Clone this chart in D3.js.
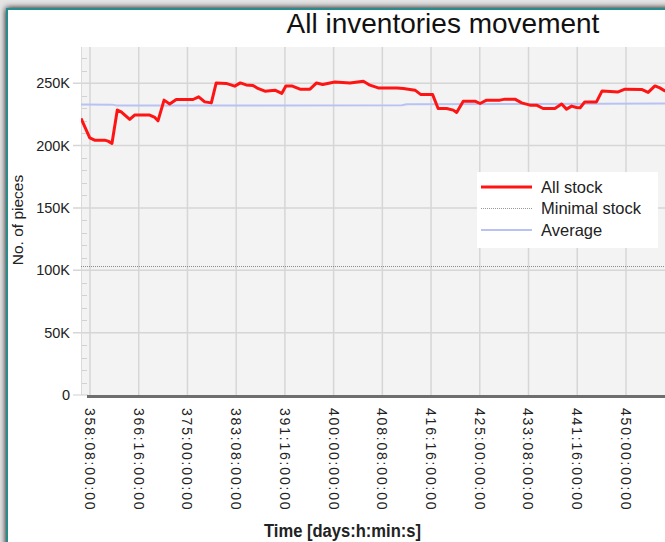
<!DOCTYPE html>
<html>
<head>
<meta charset="utf-8">
<script src="https://cdnjs.cloudflare.com/ajax/libs/d3/7.8.5/d3.min.js"></script>
<style>
  html, body { margin: 0; padding: 0; background: #e4e4e4; }
  svg { display: block; font-family: "Liberation Sans", Arial, sans-serif; }
</style>
</head>
<body>
<div id="chart"></div>
<script>
// time in hours since day 0, stock in pieces
var stockHours = [8563, 8599, 8619, 8660, 8674, 8690, 8712, 8728, 8763, 8783, 8845, 8866, 8879, 8904, 8927, 8954,
  9023, 9046, 9071, 9098, 9118, 9159, 9194, 9217, 9241, 9269, 9289, 9318, 9359, 9387, 9404, 9428, 9462, 9503,
  9530, 9555, 9605, 9667, 9722, 9749, 9783, 9859, 9886, 9934, 9957, 10006, 10029, 10064, 10091, 10105, 10132,
  10180, 10201, 10228, 10283, 10303, 10344, 10372, 10406, 10433, 10460, 10508, 10536, 10556, 10577, 10597,
  10612, 10631, 10679, 10702, 10768, 10796, 10864, 10891, 10919, 10939, 10960, 10990];
var stockValues = [221700, 206200, 204300, 204300, 203500, 201700, 228500, 227000, 220900, 224400, 224400, 222500,
  219800, 236400, 233300, 236900, 236900, 239000, 235000, 234200, 250200, 249800, 247600, 250200, 248600, 248200,
  245800, 243600, 244400, 241800, 247800, 247800, 245200, 245200, 250200, 249000, 251000, 250200, 251600, 248400,
  246200, 246200, 245800, 244400, 241000, 241000, 229700, 229700, 228400, 226500, 235600, 235600, 233700, 236400,
  236400, 237200, 237200, 234200, 232400, 232400, 229700, 229700, 233300, 229200, 231600, 230500, 230300, 235000,
  235000, 243800, 243000, 245200, 245000, 242600, 247800, 246200, 243800, 242500];

var avgHours = [8563, 8690, 8710, 9880, 9900, 10700, 11186];
var avgValues = [233000, 232800, 232100, 232300, 233100, 233500, 233900];

var minimalStock = 103000;

var xTicks = d3.range(8600, 11200, 200);
var yTicks = [0, 50000, 100000, 150000, 200000, 250000];
var yMinorTicks = d3.range(10000, 280000, 10000).filter(function(v) { return v % 50000 != 0; });

var legendNames = ["All stock", "Minimal stock", "Average"];

var width = 665, height = 542;
var plotLeft = 81, plotTop = 47, plotBottom = 395, plotRight = 720;

var x = d3.scaleLinear().domain([8563, 11186]).range([plotLeft, plotRight]);
var y = d3.scaleLinear().domain([0, 279000]).range([plotBottom, plotTop]);

function fmtTime(h) {
  var d = Math.floor(h / 24);
  var hh = h % 24;
  return d3.format("03d")(d) + ":" + d3.format("02d")(hh) + ":00:00";
}

var svg = d3.select("#chart").append("svg")
  .attr("width", width)
  .attr("height", height);

// window frame with shadow
var defs = svg.append("defs");
var blur = defs.append("filter").attr("id", "shadow").attr("x", "-5%").attr("y", "-5%").attr("width", "110%").attr("height", "110%");
blur.append("feGaussianBlur").attr("in", "SourceAlpha").attr("stdDeviation", 3);
var merge = blur.append("feMerge");
merge.append("feMergeNode");
merge.append("feMergeNode").attr("in", "SourceGraphic");

defs.append("clipPath").attr("id", "plotclip")
  .append("rect")
  .attr("x", plotLeft).attr("y", plotTop)
  .attr("width", plotRight - plotLeft).attr("height", plotBottom - plotTop);

svg.append("rect")
  .attr("x", 7).attr("y", 9)
  .attr("width", 700).attr("height", 560)
  .attr("fill", "#fff")
  .attr("stroke", "#2b8c8a")
  .attr("stroke-width", 2)
  .attr("filter", "url(#shadow)");

// title
svg.append("text")
  .attr("x", 443).attr("y", 33)
  .attr("text-anchor", "middle")
  .attr("font-size", 28)
  .attr("fill", "#111")
  .text("All inventories movement");

// plot background
svg.append("rect")
  .attr("x", plotLeft).attr("y", plotTop)
  .attr("width", plotRight - plotLeft).attr("height", plotBottom - plotTop)
  .attr("fill", "#f3f3f3");

// vertical grid
svg.append("g").selectAll("line")
  .data(xTicks)
  .enter().append("line")
  .attr("x1", function(d) { return x(d); })
  .attr("x2", function(d) { return x(d); })
  .attr("y1", plotTop).attr("y2", plotBottom)
  .attr("stroke", "#d6d6d6")
  .attr("stroke-width", 1.5);

// horizontal grid + y ticks
svg.append("g").selectAll("line")
  .data(yTicks.filter(function(d) { return d > 0; }))
  .enter().append("line")
  .attr("x1", 73).attr("x2", plotRight)
  .attr("y1", function(d) { return y(d); })
  .attr("y2", function(d) { return y(d); })
  .attr("stroke", "#d6d6d6")
  .attr("stroke-width", 1.5);

// minor ticks in the left strip
svg.append("g").selectAll("line")
  .data(yMinorTicks)
  .enter().append("line")
  .attr("x1", plotLeft).attr("x2", plotLeft + 6)
  .attr("y1", function(d) { return Math.round(y(d)) + 0.5; })
  .attr("y2", function(d) { return Math.round(y(d)) + 0.5; })
  .attr("stroke", "#d2d2d2");

svg.append("line")
  .attr("x1", plotLeft + 0.5).attr("x2", plotLeft + 0.5)
  .attr("y1", plotTop).attr("y2", plotBottom)
  .attr("stroke", "#dadada");

// y tick labels
svg.append("g").selectAll("text")
  .data(yTicks)
  .enter().append("text")
  .attr("x", 70)
  .attr("y", function(d) { return y(d); })
  .attr("dy", "0.36em")
  .attr("text-anchor", "end")
  .attr("font-size", 14.5)
  .attr("fill", "#222")
  .text(function(d) { return d == 0 ? "0" : (d / 1000) + "K"; });

// zero tick and x axis bar
svg.append("line")
  .attr("x1", 73).attr("x2", 88)
  .attr("y1", plotBottom).attr("y2", plotBottom)
  .attr("stroke", "#cfcfcf");
svg.append("line")
  .attr("x1", 87).attr("x2", plotRight)
  .attr("y1", plotBottom + 1.5).attr("y2", plotBottom + 1.5)
  .attr("stroke", "#6e6e6e")
  .attr("stroke-width", 3);

// x tick labels, rotated (only those that fit in the window)
svg.append("g").selectAll("text")
  .data(xTicks.filter(function(d) { return x(d) < width - 10; }))
  .enter().append("text")
  .attr("transform", function(d) { return "translate(" + x(d) + ",408) rotate(90)"; })
  .attr("dy", "0.36em")
  .attr("font-size", 14)
  .attr("letter-spacing", 1.8)
  .attr("fill", "#222")
  .text(fmtTime);

// axis titles
svg.append("text")
  .attr("transform", "translate(23,220) rotate(-90)")
  .attr("text-anchor", "middle")
  .attr("font-size", 15.5)
  .attr("fill", "#222")
  .text("No. of pieces");

svg.append("text")
  .attr("x", 264).attr("y", 537)
  .attr("font-weight", "bold")
  .attr("font-size", 18)
  .attr("textLength", 157)
  .attr("lengthAdjust", "spacingAndGlyphs")
  .attr("fill", "#222")
  .text("Time [days:h:min:s]");

// series
var plot = svg.append("g").attr("clip-path", "url(#plotclip)");

plot.append("line")
  .attr("x1", plotLeft).attr("x2", plotRight)
  .attr("y1", y(minimalStock)).attr("y2", y(minimalStock))
  .attr("stroke", "#8a8a8a")
  .attr("stroke-width", 1)
  .attr("stroke-dasharray", "1,1");

var avgLine = d3.line()
  .x(function(d, i) { return x(avgHours[i]); })
  .y(function(d) { return y(d); });
plot.append("path")
  .attr("d", avgLine(avgValues))
  .attr("fill", "none")
  .attr("stroke", "#b9c3f3")
  .attr("stroke-width", 2);

var stockLine = d3.line()
  .x(function(d, i) { return x(stockHours[i]); })
  .y(function(d) { return y(d); });
plot.append("path")
  .attr("d", stockLine(stockValues))
  .attr("fill", "none")
  .attr("stroke", "#ff1414")
  .attr("stroke-width", 3)
  .attr("stroke-linejoin", "round");

// legend
var legend = svg.append("g").attr("transform", "translate(477,172)");
legend.append("rect")
  .attr("width", 181).attr("height", 76)
  .attr("fill", "#fff");

var legendStyles = [
  { color: "#ff1414", w: 3, dash: null },
  { color: "#9a9a9a", w: 1, dash: "1,1" },
  { color: "#b9c3f3", w: 2, dash: null }
];
var items = legend.selectAll(".item")
  .data(legendNames)
  .enter().append("g")
  .attr("class", "item")
  .attr("transform", function(d, i) { return "translate(0," + (15 + i * 21.5) + ")"; });
items.append("line")
  .attr("x1", 4).attr("x2", 55)
  .attr("stroke", function(d, i) { return legendStyles[i].color; })
  .attr("stroke-width", function(d, i) { return legendStyles[i].w; })
  .attr("stroke-dasharray", function(d, i) { return legendStyles[i].dash; });
items.append("text")
  .attr("x", 64)
  .attr("dy", "0.36em")
  .attr("font-size", 16.5)
  .attr("fill", "#222")
  .text(function(d) { return d; });
</script>
</body>
</html>
